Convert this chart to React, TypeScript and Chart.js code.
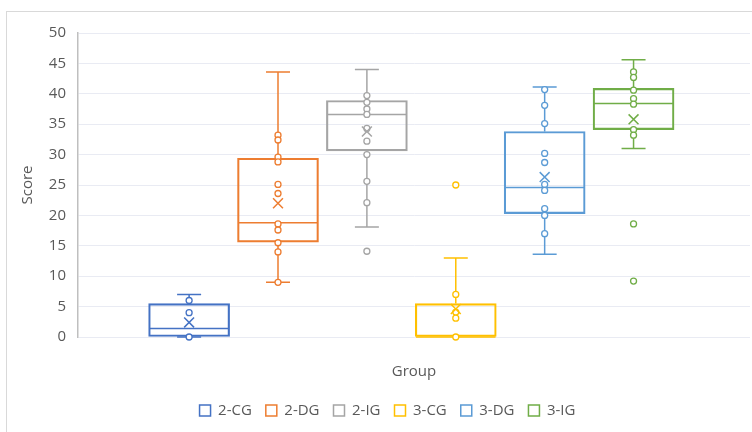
import React, { useEffect, useRef } from 'react';
import { Chart, registerables } from 'chart.js';

Chart.register(...registerables);

// ---- data ----
const categories = ['2-CG', '2-DG', '2-IG', '3-CG', '3-DG', '3-IG'];
const colors = ['#4472c4', '#ed7d31', '#a5a5a5', '#ffc000', '#5b9bd5', '#70ad47'];
const q1 = [0, 15.6, 30.6, 0, 20.3, 34.1];
const median = [1.4, 18.8, 36.6, 0, 24.6, 38.4];
const q3 = [5.5, 29.4, 38.9, 5.5, 33.8, 40.9];
const whiskerLow = [0, 9, 18.1, 0, 13.6, 31];
const whiskerHigh = [7, 43.6, 44, 13, 41.1, 45.6];
const means = [2.4, 22, 33.8, 4.6, 26.3, 35.8];
const points2CG = [6, 4, 0];
const points2DG = [33.2, 32.4, 29.6, 28.8, 25.1, 23.6, 18.6, 17.6, 15.5, 14, 9];
const points2IG = [39.7, 38.6, 37.5, 36.6, 34.3, 32.2, 30, 25.6, 22.1, 14.1];
const points3CG = [25, 7, 4.1, 3.1, 0];
const points3DG = [40.7, 38.1, 35.1, 30.2, 28.7, 25.1, 24.1, 21.1, 20, 17];
const points3IG = [43.6, 42.7, 40.6, 39.2, 38.3, 34.1, 33.2, 18.6, 9.2];
const groupPoints = [points2CG, points2DG, points2IG, points3CG, points3DG, points3IG];
const yMin = 0;
const yMax = 50;
const yStep = 5;
const xTitle = 'Group';
const yTitle = 'Score';

const BOX_WIDTH = 81;
const CAP_HALF = 12;
const FONT = "'Open Sans', 'Noto Sans', sans-serif";
const TEXT = '#595959';

const whiskerPlugin = {
  id: 'whiskers',
  beforeDatasetsDraw(chart: any) {
    const { ctx } = chart;
    const x = chart.scales.x;
    const y = chart.scales.y;
    ctx.save();
    ctx.lineWidth = 1.5;
    categories.forEach((_, i) => {
      const cx = x.getPixelForValue(i + 1);
      const yHi = y.getPixelForValue(whiskerHigh[i]);
      const yLo = y.getPixelForValue(whiskerLow[i]);
      const yQ1 = y.getPixelForValue(q1[i]);
      const yQ3 = y.getPixelForValue(q3[i]);
      const yMed = y.getPixelForValue(median[i]);
      ctx.strokeStyle = colors[i];
      ctx.beginPath();
      ctx.moveTo(cx, yQ3);
      ctx.lineTo(cx, yHi);
      ctx.moveTo(cx - CAP_HALF, yHi);
      ctx.lineTo(cx + CAP_HALF, yHi);
      ctx.moveTo(cx, yQ1);
      ctx.lineTo(cx, yLo);
      ctx.moveTo(cx - CAP_HALF, yLo);
      ctx.lineTo(cx + CAP_HALF, yLo);
      ctx.moveTo(cx - BOX_WIDTH / 2 + 0.75, yMed);
      ctx.lineTo(cx + BOX_WIDTH / 2 - 0.75, yMed);
      ctx.stroke();
    });
    ctx.restore();
  },
};

export default function App() {
  const ref = useRef<HTMLCanvasElement | null>(null);

  useEffect(() => {
    if (!ref.current) return;
    const boxSets = categories.map((name, i) => ({
      type: 'bar' as const,
      label: name,
      data: [{ x: i + 1, y: [q1[i], q3[i]] }],
      backgroundColor: 'rgba(255,255,255,0)',
      borderColor: colors[i],
      borderWidth: 1.5,
      borderSkipped: false,
      barThickness: BOX_WIDTH,
      grouped: false,
      order: 3,
    }));
    const pointSets = categories.map((name, i) => ({
      type: 'scatter' as const,
      label: name + ' points',
      data: groupPoints[i].map((v) => ({ x: i + 1, y: v })),
      borderColor: colors[i],
      backgroundColor: '#ffffff',
      pointRadius: 3,
      pointBorderWidth: 1.3,
      pointStyle: 'circle',
      clip: false,
      order: 2,
    }));
    const meanSets = categories.map((name, i) => ({
      type: 'scatter' as const,
      label: name + ' mean',
      data: [{ x: i + 1, y: means[i] }],
      borderColor: colors[i],
      backgroundColor: colors[i],
      pointRadius: 7,
      pointBorderWidth: 1.5,
      pointStyle: 'crossRot',
      clip: false,
      order: 1,
    }));

    const chart = new Chart(ref.current, {
      type: 'bar',
      data: { datasets: [...boxSets, ...pointSets, ...meanSets] as any },
      plugins: [whiskerPlugin],
      options: {
        responsive: false,
        animation: false,
        events: [],
        layout: { padding: { left: 18, right: 17, top: 21, bottom: 12 } },
        scales: {
          x: {
            type: 'linear',
            offset: false,
            min: -0.25,
            max: 7.31,
            grid: { display: false, drawTicks: false, offset: false },
            border: { display: false },
            ticks: { display: false },
            title: {
              display: true,
              text: xTitle,
              color: TEXT,
              font: { family: FONT, size: 15 },
              padding: { top: 26, bottom: 8 },
            },
          },
          y: {
            type: 'linear',
            min: yMin,
            max: yMax,
            afterFit: (scale: any) => {
              scale.width = 53;
            },
            ticks: {
              stepSize: yStep,
              color: TEXT,
              font: { family: FONT, size: 15 },
              padding: 12,
            },
            grid: { color: '#e9ebf3', lineWidth: 1, drawTicks: false },
            border: { display: true, color: '#bfbfbf', width: 1.5 },
            title: {
              display: true,
              text: yTitle,
              color: TEXT,
              font: { family: FONT, size: 15 },
              padding: { top: -6, bottom: 0 },
            },
          },
        },
        plugins: {
          legend: {
            display: true,
            position: 'bottom',
            labels: {
              filter: (item: any) => item.datasetIndex < categories.length,
              boxWidth: 11,
              boxHeight: 11,
              padding: 14,
              color: TEXT,
              font: { family: FONT, size: 15 },
            },
          },
          tooltip: { enabled: false },
        },
      } as any,
    });
    return () => chart.destroy();
  }, []);

  return (
    <div
      style={{
        position: 'fixed',
        left: 6,
        top: 11,
        width: 746,
        height: 421,
        overflow: 'hidden',
      }}
    >
      <div
        style={{
          position: 'relative',
          width: 762,
          height: 430,
          border: '1px solid #d9d9d9',
          boxSizing: 'border-box',
          background: '#ffffff',
        }}
      >
        <canvas ref={ref} width={760} height={428} style={{ display: 'block' }} />
      </div>
    </div>
  );
}
